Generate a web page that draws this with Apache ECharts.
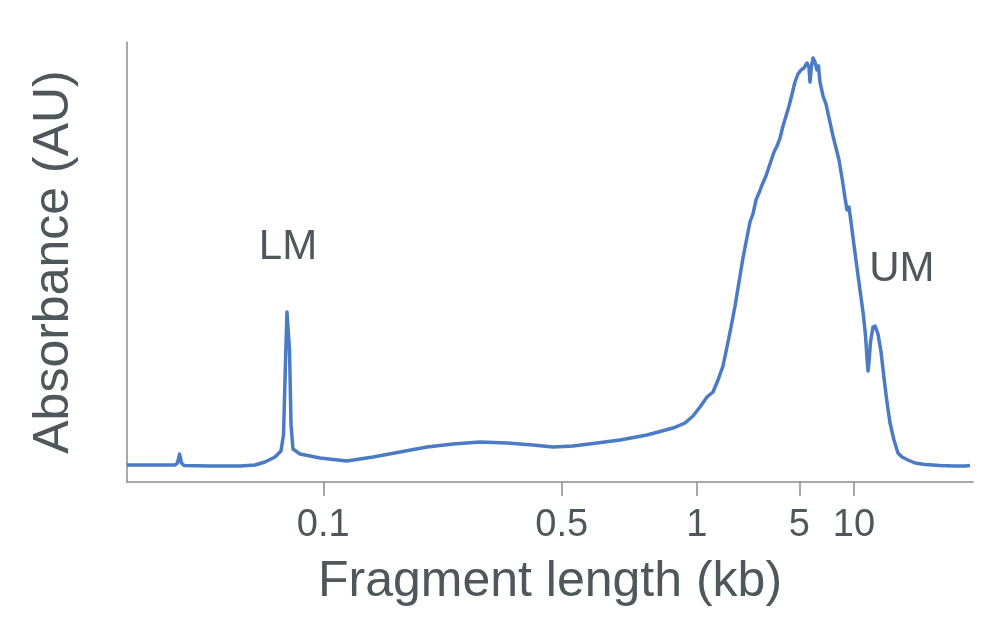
<!DOCTYPE html>
<html>
<head>
<meta charset="utf-8">
<script src="https://cdn.jsdelivr.net/npm/echarts@6/dist/echarts.min.js"></script>
<style>
html,body{margin:0;padding:0;background:#fff;}
#chart{width:1000px;height:631px;}
</style>
</head>
<body>
<div id="chart"></div>
<script>
// Migration position (0-100 % of run) and relative absorbance (0-100)
var migrationPos = [0,2.72,5.67,5.97,6.21,6.44,6.74,9.81,13.36,15.13,16.31,17.49,18.20,18.50,18.74,18.91,19.03,19.21,19.39,19.62,20.45,22.81,26.00,29.08,32.27,35.46,38.53,41.73,44.92,47.99,50.36,52.72,55.56,58.27,61.47,64.54,65.96,66.90,67.73,68.56,69.27,69.86,70.45,70.92,71.40,71.87,72.34,72.81,73.29,73.64,73.99,74.35,74.70,75.06,75.53,76.00,76.48,76.83,77.19,77.54,77.90,78.25,78.61,78.96,79.31,79.67,80.02,80.38,80.61,80.73,80.91,81.09,81.32,81.56,81.74,81.91,82.27,82.62,82.98,83.45,83.81,84.16,84.52,84.87,85.11,85.34,85.58,85.93,86.29,86.64,87.00,87.29,87.47,87.59,87.71,87.88,88.18,88.42,88.77,89.13,89.48,89.83,90.19,90.66,91.13,91.61,92.32,93.14,94.33,96.10,97.87,99.05,99.65];
var absorbance = [3.86,3.86,3.86,4.32,6.36,4.32,3.75,3.64,3.64,3.86,4.55,5.68,7.05,10.68,27.73,38.64,39.09,29.99,12.95,7.50,6.36,5.45,4.77,5.68,6.82,7.95,8.64,9.09,8.86,8.41,7.95,8.18,8.86,9.55,10.68,12.27,13.41,15.00,17.05,19.32,20.45,23.18,26.36,30.68,35.23,40.00,45.45,50.91,55.68,59.09,60.91,64.09,65.68,67.50,69.55,72.27,75.00,76.36,78.18,80.91,83.18,85.45,88.18,90.91,92.73,93.64,94.09,95.23,94.32,90.91,94.55,96.36,95.45,93.64,94.55,90.91,87.73,85.91,82.73,78.64,75.91,73.18,69.09,64.55,61.82,62.50,59.09,53.86,48.64,43.64,38.64,33.41,28.18,25.23,27.27,31.82,35.23,35.45,33.64,29.55,23.64,18.18,13.41,9.55,6.59,5.68,5.00,4.32,3.98,3.75,3.64,3.64,3.75];
// Fragment length tick labels (kb) and their migration positions
var tickLabels = ['0.1','0.5','1','5','10'];
var tickPositions = [23.20,51.38,67.34,79.47,85.93];

var traceData = migrationPos.map(function(x,i){return [x, absorbance[i]];});
var textColor = '#4e585c';
var axisColor = '#8c8c8c';
var fontFam = 'Liberation Sans, Arial, sans-serif';

var chart = echarts.init(document.getElementById('chart'), null, {renderer:'canvas'});
chart.setOption({
  animation:false,
  backgroundColor:'#ffffff',
  grid:{left:127,right:27,top:42,bottom:149,containLabel:false},
  xAxis:{
    type:'value', min:0, max:100,
    name:'Fragment length (kb)', nameLocation:'middle', nameGap:75,
    nameTextStyle:{fontFamily:fontFam, fontSize:50, color:textColor},
    axisLine:{show:true,lineStyle:{color:axisColor,width:1.5}},
    axisTick:{show:true,length:14,lineStyle:{color:axisColor,width:1.5},customValues:tickPositions},
    axisLabel:{show:true,margin:25,fontFamily:fontFam,fontSize:38,color:textColor,
      customValues:tickPositions,
      formatter:function(v){var i=tickPositions.indexOf(v);return i>=0?tickLabels[i]:'';}},
    splitLine:{show:false}
  },
  yAxis:{
    type:'value', min:0, max:100,
    name:'Absorbance (AU)', nameLocation:'middle', nameGap:48,
    nameTextStyle:{fontFamily:fontFam, fontSize:50, color:textColor},
    axisLine:{show:true,lineStyle:{color:axisColor,width:1.5}},
    axisTick:{show:false}, axisLabel:{show:false}, splitLine:{show:false}
  },
  series:[{
    type:'line', data:traceData, symbol:'none', smooth:false,
    lineStyle:{color:'#4a7bc4',width:3.5,join:'round'},
    markPoint:{
      symbol:'circle', symbolSize:0, silent:true,
      label:{show:true,position:'inside',fontFamily:fontFam,fontSize:42,color:textColor,formatter:function(p){return p.name;}},
      data:[
        {name:'LM', coord:[19.03,53.2]},
        {name:'UM', coord:[91.6,48.2]}
      ]
    }
  }]
});
</script>
</body>
</html>
